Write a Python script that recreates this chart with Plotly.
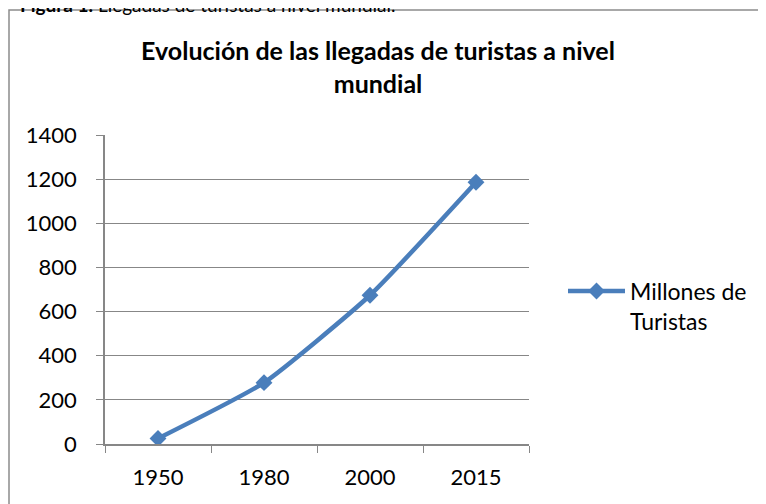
import plotly.graph_objects as go

years = ["1950", "1980", "2000", "2015"]
tourists = [25, 278, 674, 1186]
series_name = "Millones de<br>Turistas"
y_ticks = [0, 200, 400, 600, 800, 1000, 1200, 1400]

FONT = "Lato, Carlito, Calibri, 'Open Sans', sans-serif"
BLUE = "#4a7ebb"
GRAY = "#878787"

OFF = 8  # page body margin
W, H = 766 - OFF, 504 - OFF
L, R, T, B = 105, 529, 135, 444  # plot area in reference pixels


def px(x):
    return (x - L) / (R - L)


def py(y):
    return (B - y) / (B - T)


fig = go.Figure()
fig.add_trace(go.Scatter(
    x=years, y=tourists, name=series_name, mode="lines+markers",
    line=dict(color=BLUE, width=4.5, shape="spline", smoothing=0.5),
    marker=dict(symbol="diamond", size=13, color=BLUE),
))

fig.update_layout(
    width=W, height=H,
    margin=dict(l=L - OFF, r=766 - R, t=T - OFF, b=504 - B),
    paper_bgcolor="white", plot_bgcolor="white",
    font=dict(family=FONT, size=22, color="black"),
    showlegend=True,
    legend=dict(x=px(563), y=py(306), xanchor="left", yanchor="middle",
                valign="top", font=dict(size=23), itemwidth=57,
                bgcolor="rgba(0,0,0,0)"),
    title=dict(text="<b>Evolución de las llegadas de turistas a nivel<br>mundial</b>",
               xref="container", x=(378 - OFF) / W, xanchor="center",
               yref="container", y=1 - (60 - OFF) / H, yanchor="middle",
               font=dict(size=25, family=FONT)),
    xaxis=dict(type="category", range=[-0.5, 3.5], showgrid=False, showline=True,
               linecolor=GRAY, linewidth=1.5, ticks="outside", ticklen=7,
               tickcolor=GRAY, tickson="boundaries", tickfont=dict(size=22),
               ticklabelstandoff=13),
    yaxis=dict(range=[0, 1400], tickvals=y_ticks, showgrid=True, gridcolor=GRAY,
               gridwidth=1, showline=True, linecolor=GRAY, linewidth=1.5,
               ticks="outside", ticklen=7, tickcolor=GRAY, zeroline=False,
               tickfont=dict(size=22), ticklabelstandoff=15),
)

fig.add_shape(type="rect", xref="paper", yref="paper",
              x0=px(9), x1=px(780), y0=py(520), y1=py(10),
              line=dict(color="#8c8c8c", width=1.5), layer="below")

fig.add_annotation(xref="paper", yref="paper", x=px(18), y=py(4),
                   xanchor="left", yanchor="middle", showarrow=False,
                   text="<b>Figura 1.</b> Llegadas de turistas a nivel mundial.",
                   font=dict(size=19, family=FONT))

fig.write_html("out.html")
